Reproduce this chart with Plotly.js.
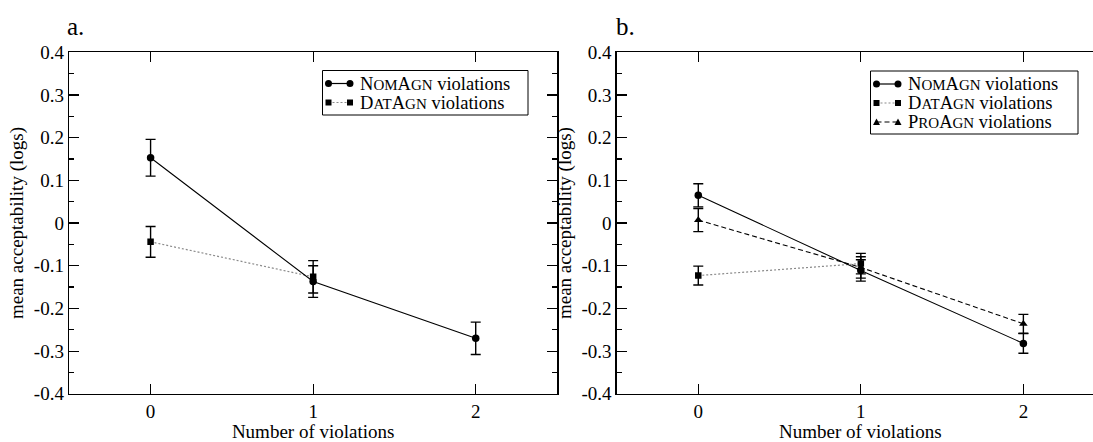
<!DOCTYPE html>
<html>
<head>
<meta charset="utf-8">
<script src="https://cdn.plot.ly/plotly-3.0.1.min.js"></script>
<style>
html,body{margin:0;padding:0;overflow:hidden;background:#fff;}
#chart{width:1093px;height:442px;}
</style>
</head>
<body>
<div id="chart"></div>
<script>
// ---- data ----
const violations = [0, 1, 2];
const violationsDat = [0, 1];

// panel a
const aNom = [0.153, -0.137, -0.270];
const aNomErr = [0.043, 0.037, 0.038];
const aDat = [-0.044, -0.126];
const aDatErr = [0.036, 0.038];

// panel b
const bNom = [0.065, -0.111, -0.282];
const bNomErr = [0.027, 0.025, 0.023];
const bDat = [-0.123, -0.095];
const bDatErr = [0.022, 0.024];
const bPro = [0.007, -0.104, -0.236];
const bProErr = [0.027, 0.025, 0.022];

const yTickVals = [-0.4, -0.3, -0.2, -0.1, 0, 0.1, 0.2, 0.3, 0.4];
const yTickText = ["-0.4", "-0.3", "-0.2", "-0.1", "0", "0.1", "0.2", "0.3", "0.4"];
const yMinorVals = [-0.35, -0.25, -0.15, -0.05, 0.05, 0.15, 0.25, 0.35];
const xTickText = ["0", "1", "2"];
const xTitle = 'Number of violations';
const yTitle = 'mean acceptability (logs)';

const SC = s => '<span style="font-size:15px">' + s + '</span>';
const seriesNames = {
  nom: 'N' + SC('OM') + 'A' + SC('GN') + ' violations',
  dat: 'D' + SC('AT') + 'A' + SC('GN') + ' violations',
  pro: 'P' + SC('RO') + 'A' + SC('GN') + ' violations'
};

// ---- geometry helpers ----
const W = 1093, H = 442;
const px = p => p / W;
const py = p => 1 - p / H;

const FONT = '"Liberation Serif", "Times New Roman", Times, serif';

const styles = {
  nom: {line: {color: 'black', width: 1.1, dash: 'solid'}, marker: {symbol: 'circle', size: 7.5, color: 'black'}},
  dat: {line: {color: '#8a8a8a', width: 1.2, dash: '2px,2px'}, marker: {symbol: 'square', size: 6.5, color: 'black'}},
  pro: {line: {color: 'black', width: 1.1, dash: '5px,3px'}, marker: {symbol: 'triangle-up', size: 7.5, color: 'black'}}
};

function tr(x, y, err, key, xa, ya) {
  return {
    type: 'scatter', mode: 'lines+markers', x: x, y: y,
    xaxis: xa, yaxis: ya, showlegend: false, name: key,
    line: styles[key].line, marker: styles[key].marker,
    error_y: {type: 'data', array: err, visible: true, color: 'black', thickness: 1.4, width: 5}
  };
}

const data = [
  tr(violationsDat, aDat, aDatErr, 'dat', 'x', 'y'),
  tr(violations, aNom, aNomErr, 'nom', 'x', 'y'),
  tr(violationsDat, bDat, bDatErr, 'dat', 'x2', 'y2'),
  tr(violations, bPro, bProErr, 'pro', 'x2', 'y2'),
  tr(violations, bNom, bNomErr, 'nom', 'x2', 'y2')
];

const yDomain = [py(393.8), py(52.3)];
// panel b runs past the right edge of the picture: unit = 162.5px, x=0 at 698.4px
const bRight = (W - 698.4) / 162.5;

function xAxis(domain, anchor, range, title) {
  return {
    domain: domain, anchor: anchor, range: range,
    tickmode: 'array', tickvals: violations, ticktext: xTickText,
    ticks: 'inside', ticklen: 10, tickwidth: 1.2, tickcolor: 'black',
    showline: true, linecolor: 'black', linewidth: 1.6, mirror: 'ticks',
    showgrid: false, zeroline: false,
    tickfont: {family: FONT, size: 19, color: 'black'},
    title: {text: title, font: {family: FONT, size: 19, color: 'black'}, standoff: 5},
    automargin: false
  };
}
function yAxis(anchor, mirror) {
  return {
    domain: yDomain, anchor: anchor, range: [-0.4, 0.4],
    tickmode: 'array', tickvals: yTickVals, ticktext: yTickText,
    ticks: 'inside', ticklen: 10, tickwidth: 1.2, tickcolor: 'black',
    minor: {tickmode: 'array', tickvals: yMinorVals, ticks: 'inside', ticklen: 5, tickwidth: 1.2, tickcolor: 'black', showgrid: false},
    showline: true, linecolor: 'black', linewidth: 1.6, mirror: mirror,
    showgrid: false, zeroline: false,
    tickfont: {family: FONT, size: 19, color: 'black'},
    title: {text: yTitle, font: {family: FONT, size: 19, color: 'black'}, standoff: 5},
    automargin: false
  };
}

// ---- custom legends ----
const shapes = [];
const annotations = [];
function legend(left, right, top, bottom, keys) {
  shapes.push({type: 'rect', xref: 'paper', yref: 'paper', x0: px(left), x1: px(right), y0: py(bottom), y1: py(top),
    line: {color: 'black', width: 1}, fillcolor: 'white', layer: 'above'});
  keys.forEach((k, i) => {
    const yy = top + 13 + i * 19;
    const xA = left + 6, xB = left + 27.5;
    const st = styles[k];
    shapes.push({type: 'line', xref: 'paper', yref: 'paper', x0: px(xA), x1: px(xB), y0: py(yy), y1: py(yy),
      line: {color: st.line.color, width: 1.2, dash: st.line.dash}, layer: 'above'});
    [xA, xB].forEach(xc => {
      if (k === 'nom') {
        shapes.push({type: 'circle', xref: 'paper', yref: 'paper', x0: px(xc - 3.5), x1: px(xc + 3.5), y0: py(yy + 3.5), y1: py(yy - 3.5),
          fillcolor: 'black', line: {width: 0}, layer: 'above'});
      } else if (k === 'dat') {
        shapes.push({type: 'rect', xref: 'paper', yref: 'paper', x0: px(xc - 3), x1: px(xc + 3), y0: py(yy + 3), y1: py(yy - 3),
          fillcolor: 'black', line: {width: 0}, layer: 'above'});
      } else {
        const path = 'M ' + px(xc - 3.5) + ' ' + py(yy + 3) + ' L ' + px(xc + 3.5) + ' ' + py(yy + 3) + ' L ' + px(xc) + ' ' + py(yy - 3.5) + ' Z';
        shapes.push({type: 'path', xref: 'paper', yref: 'paper', path: path, fillcolor: 'black', line: {width: 0}, layer: 'above'});
      }
    });
    annotations.push({xref: 'paper', yref: 'paper', x: px(left + 35), y: py(yy), xanchor: 'left', yanchor: 'middle',
      text: seriesNames[k], showarrow: false, font: {family: FONT, size: 18.5, color: 'black'}});
  });
}
legend(322.5, 528, 70.5, 115, ['nom', 'dat']);
legend(870.5, 1078, 71, 134, ['nom', 'dat', 'pro']);

annotations.push({xref: 'paper', yref: 'paper', x: px(65), y: py(26), xanchor: 'left', yanchor: 'middle',
  text: 'a.', showarrow: false, font: {family: FONT, size: 25, color: 'black'}});
annotations.push({xref: 'paper', yref: 'paper', x: px(614), y: py(26), xanchor: 'left', yanchor: 'middle',
  text: 'b.', showarrow: false, font: {family: FONT, size: 25, color: 'black'}});
// x title of panel b, centred on the full (clipped) panel at x = 1
annotations.push({xref: 'x2', yref: 'paper', x: 1, y: py(431), xanchor: 'center', yanchor: 'middle',
  text: xTitle, showarrow: false, font: {family: FONT, size: 19, color: 'black'}});

const layout = {
  width: W, height: H,
  margin: {l: 0, r: 0, t: 0, b: 0},
  paper_bgcolor: 'white', plot_bgcolor: 'white',
  showlegend: false,
  font: {family: FONT},
  xaxis: xAxis([px(69.3), px(557)], 'y', [-0.5, 2.5], xTitle),
  yaxis: yAxis('x', 'ticks'),
  xaxis2: xAxis([px(617), 1], 'y2', [-0.5, bRight], ''),
  yaxis2: yAxis('x2', false),
  shapes: shapes,
  annotations: annotations
};

Plotly.newPlot('chart', data, layout, {displayModeBar: false, staticPlot: true});
</script>
</body>
</html>
